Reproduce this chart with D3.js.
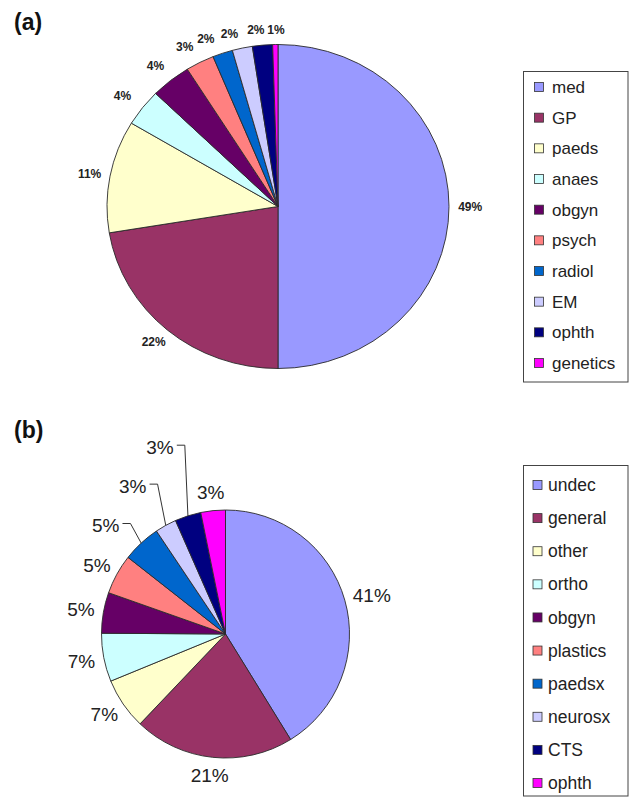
<!DOCTYPE html>
<html>
<head>
<meta charset="utf-8">
<script src="https://cdn.jsdelivr.net/npm/d3@7/dist/d3.min.js"></script>
<style>
  html, body { margin: 0; padding: 0; background: #fff; }
  svg { display: block; font-family: "Liberation Sans", Arial, sans-serif; }
</style>
</head>
<body>
<svg id="chart" width="630" height="798"></svg>
<script>
// ---- Data: panel (a) ----
const catsA   = ["med", "GP", "paeds", "anaes", "obgyn", "psych", "radiol", "EM", "ophth", "genetics"];
const valsA   = [50, 22.4, 11.2, 3.7, 3.8, 2.7, 1.9, 1.9, 1.9, 0.5];
const labelsA = ["49%", "22%", "11%", "4%", "4%", "3%", "2%", "2%", "2%", "1%"];
const colorsA = ["#9999FF", "#993366", "#FFFFCC", "#CCFFFF", "#660066", "#FF8080", "#0066CC", "#CCCCFF", "#000080", "#FF00FF"];

// ---- Data: panel (b) ----
const catsB   = ["undec", "general", "other", "ortho", "obgyn", "plastics", "paedsx", "neurosx", "CTS", "ophth"];
const valsB   = [41.2, 20.9, 6.7, 6.3, 5.3, 5.2, 5.0, 2.8, 3.4, 3.2];
const labelsB = ["41%", "21%", "7%", "7%", "5%", "5%", "5%", "3%", "3%", "3%"];
const colorsB = ["#9999FF", "#993366", "#FFFFCC", "#CCFFFF", "#660066", "#FF8080", "#0066CC", "#CCCCFF", "#000080", "#FF00FF"];

const svg = d3.select("#chart");

function drawPie(opts) {
  const { cats, vals, labels, colors, cx, cy, rx, ry, fontSize, fontWeight, gap, nudge, leaders, title, titleY, legend } = opts;
  const pie = d3.pie().sort(null).value(d => d)(vals);
  const arc = d3.arc().innerRadius(0).outerRadius(rx);

  // title
  svg.append("text").attr("x", 14).attr("y", titleY)
    .attr("font-size", 23).attr("font-weight", "bold").attr("fill", "#111")
    .attr("dy", "0.35em").text(title);

  const g = svg.append("g").attr("transform", `translate(${cx},${cy}) scale(1,${ry / rx})`);
  g.selectAll("path").data(pie).join("path")
    .attr("d", arc)
    .attr("fill", (d, i) => colors[i])
    .attr("stroke", "#2a2a2a")
    .attr("stroke-width", 0.9)
    .attr("vector-effect", "non-scaling-stroke");

  // labels
  const lg = svg.append("g");
  pie.forEach((d, i) => {
    const a = (d.startAngle + d.endAngle) / 2;
    const dx = Math.sin(a), dy = -Math.cos(a);
    const t = lg.append("text").attr("font-size", fontSize).attr("font-weight", fontWeight || "normal")
      .attr("fill", "#222").attr("text-anchor", "middle").attr("dy", "0.35em").text(labels[i]);
    const bb = t.node().getBBox();
    const w = bb.width, h = fontSize;
    let x = cx + dx * (rx + gap) + dx * w / 2;
    let y = cy + dy * (ry + gap) + dy * h / 2;
    const n = nudge && nudge[cats[i]];
    if (n) { x += n[0]; y += n[1]; }
    if (leaders && leaders.includes(cats[i])) {
      // leader line: short horizontal then to the slice edge
      const ex = cx + dx * rx, ey = cy + dy * ry;
      const sx = x + w / 2 + 3, sy = y - 2;
      lg.append("path")
        .attr("d", `M${sx},${sy}H${sx + 8}L${ex},${ey}`)
        .attr("fill", "none").attr("stroke", "#333").attr("stroke-width", 1);
    }
    t.attr("x", x).attr("y", y);
  });

  // legend
  const L = legend;
  svg.append("rect").attr("x", L.x0).attr("y", L.y0)
    .attr("width", L.x1 - L.x0).attr("height", L.y1 - L.y0)
    .attr("fill", "#fff").attr("stroke", "#444").attr("stroke-width", 1);
  const rowY = d3.scalePoint().domain(cats).range([L.firstY, L.lastY]);
  const items = svg.append("g").selectAll("g").data(cats).join("g")
    .attr("transform", c => `translate(0,${rowY(c)})`);
  items.append("rect")
    .attr("x", L.swX).attr("y", -4.5).attr("width", 9).attr("height", 9)
    .attr("fill", (c, i) => colors[i]).attr("stroke", "#333").attr("stroke-width", 0.8);
  items.append("text")
    .attr("x", L.txtX).attr("dy", "0.35em")
    .attr("font-size", L.fs).attr("fill", "#222").text(c => c);
}

drawPie({
  cats: catsA, vals: valsA, labels: labelsA, colors: colorsA,
  cx: 278, cy: 206.5, rx: 171, ry: 162, fontSize: 12, fontWeight: "bold", gap: 9,
  nudge: { anaes: [-6, -3], obgyn: [-4, -3], psych: [-7, -2], radiol: [-11, 0], EM: [-9, 0], ophth: [-5, 0], genetics: [1, 0] },
  title: "(a)", titleY: 22,
  legend: { x0: 523.5, y0: 71.5, x1: 628, y1: 382, firstY: 87, lastY: 363, swX: 534.5, txtX: 552, fs: 17 }
});

drawPie({
  cats: catsB, vals: valsB, labels: labelsB, colors: colorsB,
  cx: 225.5, cy: 634, rx: 124, ry: 124, fontSize: 19, gap: 9,
  nudge: { paedsx: [-20, -4], neurosx: [-22, -23], CTS: [-21, -51] },
  leaders: ["paedsx", "neurosx", "CTS"],
  title: "(b)", titleY: 430,
  legend: { x0: 523.5, y0: 465.5, x1: 628, y1: 796, firstY: 485, lastY: 783, swX: 533, txtX: 548, fs: 17.5 }
});
</script>
</body>
</html>
